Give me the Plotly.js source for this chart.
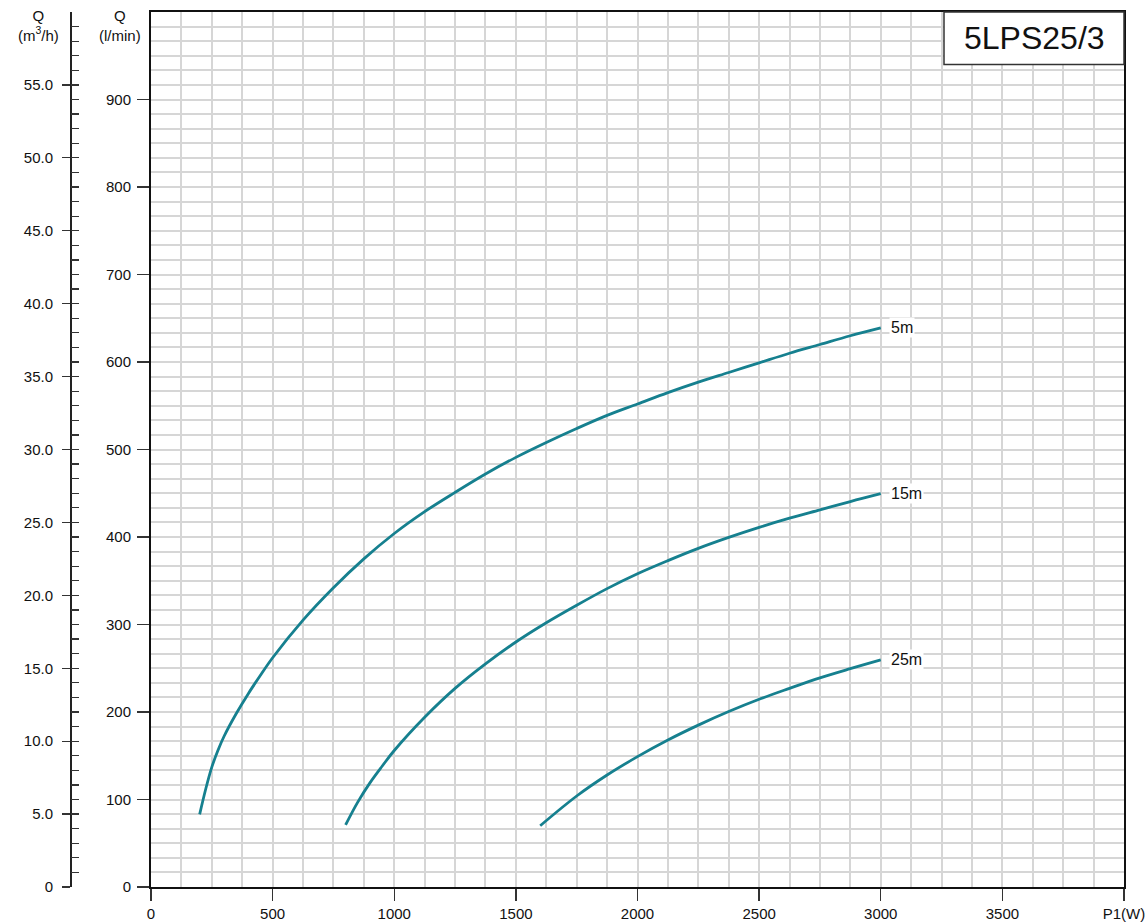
<!DOCTYPE html>
<html>
<head>
<meta charset="utf-8">
<script src="https://cdn.plot.ly/plotly-3.0.1.min.js"></script>
<style>html,body{margin:0;padding:0;background:#fff;}#chart{width:1148px;height:924px;}</style>
</head>
<body>
<div id="chart"></div>
<script>
// ---- data ----
const chartTitle = "5LPS25/3";
const curveLabels = ["5m", "15m", "25m"];

const power5 = [200, 225, 250, 275, 300, 350, 400, 450, 500, 625, 750, 875, 1000, 1125, 1250, 1375, 1500, 1625, 1750, 1875, 2000, 2125, 2250, 2375, 2500, 2625, 2750, 2875, 3000];
const flow5  = [83, 112, 137, 156, 172, 198, 221, 242, 262, 305, 342, 375, 404, 429, 451, 472, 491, 508, 524, 539, 552, 565, 577, 588, 599, 610, 620, 630, 639];

const power15 = [800, 850, 900, 950, 1000, 1125, 1250, 1375, 1500, 1625, 1750, 1875, 2000, 2125, 2250, 2375, 2500, 2625, 2750, 2875, 3000];
const flow15  = [71, 97, 119, 138, 156, 194, 227, 255, 280, 302, 322, 341, 358, 373, 387, 399.5, 411, 421.5, 431, 440.5, 449.5];

const power25 = [1600, 1750, 1875, 2000, 2125, 2250, 2375, 2500, 2625, 2750, 2875, 3000];
const flow25  = [70, 104, 128, 149, 168, 185, 200.5, 214.5, 227, 239, 249.5, 259.5];

const xTickVals = [0, 500, 1000, 1500, 2000, 2500, 3000, 3500, 4000];
const xTickText = ["0", "500", "1000", "1500", "2000", "2500", "3000", "3500", "P1(W)"];
const yTickVals = [0, 100, 200, 300, 400, 500, 600, 700, 800, 900];
const yTickText = ["0", "100", "200", "300", "400", "500", "600", "700", "800", "900"];
const m3hTickVals = [0, 5, 10, 15, 20, 25, 30, 35, 40, 45, 50, 55];
const m3hTickText = ["0", "5.0", "10.0", "15.0", "20.0", "25.0", "30.0", "35.0", "40.0", "45.0", "50.0", "55.0"];
const m3hMinorVals = Array.from({length: 60}, (_, i) => i);

const leftTitleM3h = "Q<br>(m<sup>3</sup>/h)";
const leftTitleLmin = "Q<br>(l/min)";

// ---- styling ----
const FONT = "Liberation Sans, Arial, Helvetica, sans-serif";
const CURVE = "#16808f";
const GRID = "#d6d6d6";
const GW = 2;
const W = 1148, H = 924;
const mL = 0, mR = 24, mT = 11.5, mB = 37;
const pw = W - mL - mR;
const ph = H - mT - mB;
const plotLeftPx = 151;
const m3hAxisPx = 70;

const series = [
  {x: power5, y: flow5, label: curveLabels[0]},
  {x: power15, y: flow15, label: curveLabels[1]},
  {x: power25, y: flow25, label: curveLabels[2]}
];

const traces = series.map(s => ({
  type: "scatter", mode: "lines", x: s.x, y: s.y,
  line: {color: CURVE, width: 2.8, shape: "spline", smoothing: 1},
  hoverinfo: "x+y", showlegend: false
}));

// invisible traces to activate the overlay axes
traces.push({type: "scatter", x: [0], y: [0], yaxis: "y2", mode: "markers", marker: {opacity: 0}, showlegend: false, hoverinfo: "skip"});
traces.push({type: "scatter", x: [0], y: [0], yaxis: "y3", mode: "markers", marker: {opacity: 0}, showlegend: false, hoverinfo: "skip"});

const annotations = series.map(s => ({
  x: s.x[s.x.length - 1], y: s.y[s.y.length - 1], xref: "x", yref: "y",
  text: s.label, showarrow: false, xanchor: "left", yanchor: "middle",
  xshift: 8, bgcolor: "#ffffff", borderpad: 1,
  font: {family: FONT, size: 16, color: "#111"}
}));

annotations.push({
  xref: "paper", yref: "paper", x: (944 - mL) / pw + (1 - (944 - mL) / pw) / 2, y: 1 - (38 - mT) / ph,
  text: chartTitle, showarrow: false, xanchor: "center", yanchor: "middle",
  font: {family: FONT, size: 32, color: "#111"}
});
annotations.push({
  xref: "paper", yref: "paper", x: 38 / pw, y: 1 - (25 - mT) / ph,
  text: leftTitleM3h, showarrow: false, xanchor: "center", yanchor: "middle",
  font: {family: FONT, size: 15, color: "#111"}
});
annotations.push({
  xref: "paper", yref: "paper", x: 120 / pw, y: 1 - (25 - mT) / ph,
  text: leftTitleLmin, showarrow: false, xanchor: "center", yanchor: "middle",
  font: {family: FONT, size: 15, color: "#111"}
});

const layout = {
  width: W, height: H,
  margin: {l: mL, r: mR, t: mT, b: mB, pad: 0},
  paper_bgcolor: "#ffffff", plot_bgcolor: "#ffffff",
  showlegend: false,
  font: {family: FONT, size: 15, color: "#111"},
  xaxis: {
    domain: [plotLeftPx / pw, 1],
    range: [0, 4000], tickmode: "array", tickvals: xTickVals, ticktext: xTickText,
    ticks: "outside", ticklen: 12, tickwidth: 1.3, tickcolor: "#333",
    showgrid: true, gridcolor: GRID, gridwidth: GW,
    minor: {tickmode: "linear", tick0: 0, dtick: 125, showgrid: true, gridcolor: GRID, gridwidth: GW, ticks: ""},
    showline: true, linecolor: "#111", linewidth: 2, mirror: true,
    zeroline: false, fixedrange: true,
    tickfont: {family: FONT, size: 15, color: "#111"}
  },
  yaxis: {
    range: [0, 1000], tickmode: "array", tickvals: yTickVals, ticktext: yTickText,
    ticks: "outside", ticklen: 12, tickwidth: 1.3, tickcolor: "#333",
    showgrid: true, gridcolor: GRID, gridwidth: GW,
    minor: {tickmode: "linear", tick0: 0, dtick: 50 / 3, showgrid: true, gridcolor: GRID, gridwidth: GW, ticks: ""},
    showline: true, linecolor: "#111", linewidth: 2, mirror: true,
    zeroline: false, fixedrange: true,
    ticklabelstandoff: 3,
    tickfont: {family: FONT, size: 15, color: "#111"}
  },
  yaxis2: {
    overlaying: "y", anchor: "free", position: m3hAxisPx / pw, side: "left",
    range: [0, 60], tickmode: "array", tickvals: m3hTickVals, ticktext: m3hTickText,
    ticks: "outside", ticklen: 8, tickwidth: 1.3, tickcolor: "#333",
    showgrid: false, zeroline: false,
    showline: true, linecolor: "#222", linewidth: 1.5,
    ticklabelstandoff: 6, fixedrange: true,
    tickfont: {family: FONT, size: 15, color: "#111"}
  },
  yaxis3: {
    overlaying: "y", anchor: "free", position: m3hAxisPx / pw, side: "left",
    range: [0, 60], tickmode: "array", tickvals: m3hMinorVals,
    ticks: "inside", ticklen: 8, tickwidth: 1.3, tickcolor: "#333",
    showticklabels: false, showgrid: false, zeroline: false, showline: false, fixedrange: true
  },
  shapes: [{
    type: "rect", xref: "paper", yref: "paper",
    x0: (944 - mL) / pw, x1: 1, y0: 1 - (64 - mT) / ph, y1: 1,
    line: {color: "#333", width: 1.5}, fillcolor: "#ffffff", layer: "above"
  }],
  annotations: annotations
};

Plotly.newPlot("chart", traces, layout, {displayModeBar: false, staticPlot: true});
</script>
</body>
</html>
